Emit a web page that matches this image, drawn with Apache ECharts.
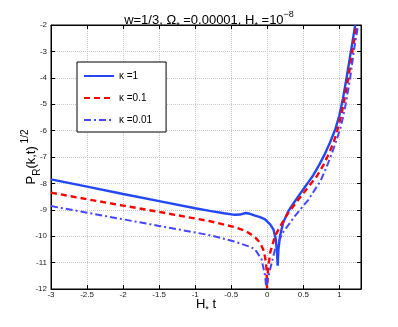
<!DOCTYPE html>
<html>
<head>
<meta charset="utf-8">
<script src="https://cdn.jsdelivr.net/npm/echarts@6/dist/echarts.min.js"></script>
<style>
  html, body { margin: 0; padding: 0; background: #fff; }
  #chart { width: 398px; height: 327px; }
</style>
</head>
<body>
<div id="chart"></div>
<script>
// kappa = 1 (solid)
var tK1 = [-3, -2.5, -2, -1.5, -1, -0.8, -0.6, -0.45, -0.38, -0.3, -0.24, -0.17, -0.1, -0.03, 0.04, 0.085, 0.117, 0.135, 0.144, 0.155, 0.177, 0.22, 0.29, 0.36, 0.43, 0.5, 0.57, 0.64, 0.72, 0.8, 0.87, 0.94, 1.0, 1.05, 1.1, 1.16, 1.22];
var yK1 = [-7.85, -8.12, -8.4, -8.67, -8.94, -9.04, -9.13, -9.19, -9.18, -9.12, -9.15, -9.22, -9.28, -9.36, -9.55, -9.74, -10.1, -10.6, -11.12, -10.5, -9.99, -9.49, -9.06, -8.77, -8.49, -8.22, -7.95, -7.68, -7.3, -6.88, -6.45, -5.98, -5.42, -4.78, -4.0, -3.0, -2];
// kappa = 0.1 (dashed)
var tK2 = [-3, -2.5, -2, -1.5, -1, -0.8, -0.46, -0.3, -0.17, -0.1, -0.056, -0.03, -0.01, -0.003, 0.01, 0.04, 0.107, 0.18, 0.29, 0.43, 0.55, 0.69, 0.78, 0.85, 0.92, 0.97, 1.02, 1.06, 1.125, 1.18, 1.24];
var yK2 = [-8.35, -8.6, -8.84, -9.08, -9.33, -9.43, -9.65, -9.8, -10.04, -10.25, -10.5, -10.8, -11.25, -12, -11.3, -10.62, -10.0, -9.62, -9.12, -8.62, -8.2, -7.72, -7.3, -6.9, -6.45, -6.0, -5.5, -4.97, -4.0, -3.0, -2];
// kappa = 0.01 (dash-dot)
var tK3 = [-3, -2.5, -2, -1.5, -1, -0.8, -0.46, -0.24, -0.17, -0.08, -0.03, -0.012, 0.0, 0.04, 0.107, 0.22, 0.385, 0.57, 0.74, 0.82, 0.89, 0.95, 1.01, 1.05, 1.09, 1.15, 1.2, 1.26];
var yK3 = [-8.86, -9.11, -9.36, -9.61, -9.86, -9.96, -10.2, -10.4, -10.5, -10.87, -11.5, -12, -11.7, -11.25, -10.5, -9.85, -9.23, -8.62, -7.9, -7.4, -6.9, -6.45, -5.95, -5.5, -4.97, -4.0, -3.0, -2];

var seriesNames = ['\u03ba =1', '\u03ba =0.1', '\u03ba =0.01'];
var xTickMin = -3, xTickMax = 1.3, xStep = 0.5;
var yTickMin = -12, yTickMax = -2, yStep = 1;

function zip(xs, ys) {
    var out = [];
    for (var i = 0; i < xs.length; i++) {
        out.push([xs[i], ys[i]]);
    }
    return out;
}

var fontFam = '"Liberation Sans", Arial, sans-serif';

var myChart = echarts.init(document.getElementById('chart'));
var option = {
    backgroundColor: '#fff',
    animation: false,
    title: {
        text: '{a|w=1/3, \u03a9}{sb|*}{a| =0.00001, H}{sb|*}{a| =10}{sp|\u22128}',
        left: 204,
        textAlign: 'center',
        top: 5,
        textStyle: {
            fontWeight: 'normal',
            rich: {
                a: { fontSize: 13, fontWeight: 'normal', fontFamily: fontFam, color: '#000', lineHeight: 20 },
                sb: { fontSize: 9, fontWeight: 'normal', fontFamily: fontFam, color: '#000', lineHeight: 12, verticalAlign: 'bottom' },
                sp: { fontSize: 9, fontWeight: 'normal', fontFamily: fontFam, color: '#000', lineHeight: 10, verticalAlign: 'top' }
            }
        }
    },
    legend: {
        orient: 'vertical',
        left: 77,
        top: 62,
        backgroundColor: '#fff',
        borderColor: '#000',
        borderWidth: 1,
        padding: [9, 14, 7, 6],
        itemWidth: 30,
        itemHeight: 10,
        itemGap: 12,
        itemStyle: { opacity: 0 },
        textStyle: { fontSize: 10, fontFamily: fontFam, color: '#000' },
        data: seriesNames
    },
    grid: {
        left: 51,
        right: 37,
        top: 25,
        bottom: 38,
        outerBoundsMode: 'none',
        show: true,
        borderColor: '#000',
        borderWidth: 1
    },
    xAxis: [
        {
            type: 'value',
            min: xTickMin,
            max: xTickMax,
            interval: xStep,
            name: '{a|H}{sb|*}{a| t}',
            nameLocation: 'middle',
            nameGap: 5,
            nameMoveOverlap: false,
            nameTextStyle: {
                rich: {
                    a: { fontSize: 13, fontFamily: fontFam, color: '#000', lineHeight: 20 },
                    sb: { fontSize: 9, fontFamily: fontFam, color: '#000', lineHeight: 12, verticalAlign: 'bottom' }
                }
            },
            axisLine: { onZero: false, lineStyle: { color: '#000', width: 1 } },
            axisTick: { inside: true, length: 4, lineStyle: { color: '#000' } },
            axisLabel: { fontSize: 8, fontFamily: fontFam, color: '#222', margin: 2, showMaxLabel: false },
            splitLine: { show: true, lineStyle: { color: '#c8c8c8', type: 'dotted', width: 1 } }
        },
        {
            type: 'value',
            position: 'top',
            min: xTickMin,
            max: xTickMax,
            interval: xStep,
            axisLine: { onZero: false, lineStyle: { color: '#000', width: 1 } },
            axisTick: { inside: true, length: 4, lineStyle: { color: '#000' } },
            axisLabel: { show: false },
            splitLine: { show: false }
        }
    ],
    yAxis: [
        {
            type: 'value',
            min: yTickMin,
            max: yTickMax,
            interval: yStep,
            name: '{a|P}{sb|R}{a|(k,t)}{sp| 1/2}',
            nameLocation: 'middle',
            nameRotate: 90,
            nameGap: 9,
            nameMoveOverlap: false,
            nameTextStyle: {
                rich: {
                    a: { fontSize: 13, fontFamily: fontFam, color: '#000', lineHeight: 22 },
                    sb: { fontSize: 10, fontFamily: fontFam, color: '#000', lineHeight: 12, verticalAlign: 'bottom' },
                    sp: { fontSize: 10, fontFamily: fontFam, color: '#000', lineHeight: 11, verticalAlign: 'top' }
                }
            },
            axisLine: { onZero: false, lineStyle: { color: '#000', width: 1 } },
            axisTick: { inside: true, length: 4, lineStyle: { color: '#000' } },
            axisLabel: { fontSize: 8, fontFamily: fontFam, color: '#222', margin: 4 },
            splitLine: { show: true, lineStyle: { color: '#c8c8c8', type: 'dotted', width: 1 } }
        },
        {
            type: 'value',
            position: 'right',
            min: yTickMin,
            max: yTickMax,
            interval: yStep,
            axisLine: { onZero: false, lineStyle: { color: '#000', width: 1 } },
            axisTick: { inside: true, length: 4, lineStyle: { color: '#000' } },
            axisLabel: { show: false },
            splitLine: { show: false }
        }
    ],
    series: [
        {
            name: seriesNames[0],
            type: 'line',
            showSymbol: false,
            symbol: 'none',
            color: '#2447f5',
            lineStyle: { width: 2.4, type: 'solid' },
            data: zip(tK1, yK1)
        },
        {
            name: seriesNames[1],
            type: 'line',
            showSymbol: false,
            symbol: 'none',
            color: '#ff0000',
            lineStyle: { width: 2.4, type: [6, 4] },
            data: zip(tK2, yK2)
        },
        {
            name: seriesNames[2],
            type: 'line',
            showSymbol: false,
            symbol: 'none',
            color: '#4646ff',
            lineStyle: { width: 2, type: [7, 3, 2, 3] },
            data: zip(tK3, yK3)
        }
    ]
};
myChart.setOption(option);
</script>
</body>
</html>
